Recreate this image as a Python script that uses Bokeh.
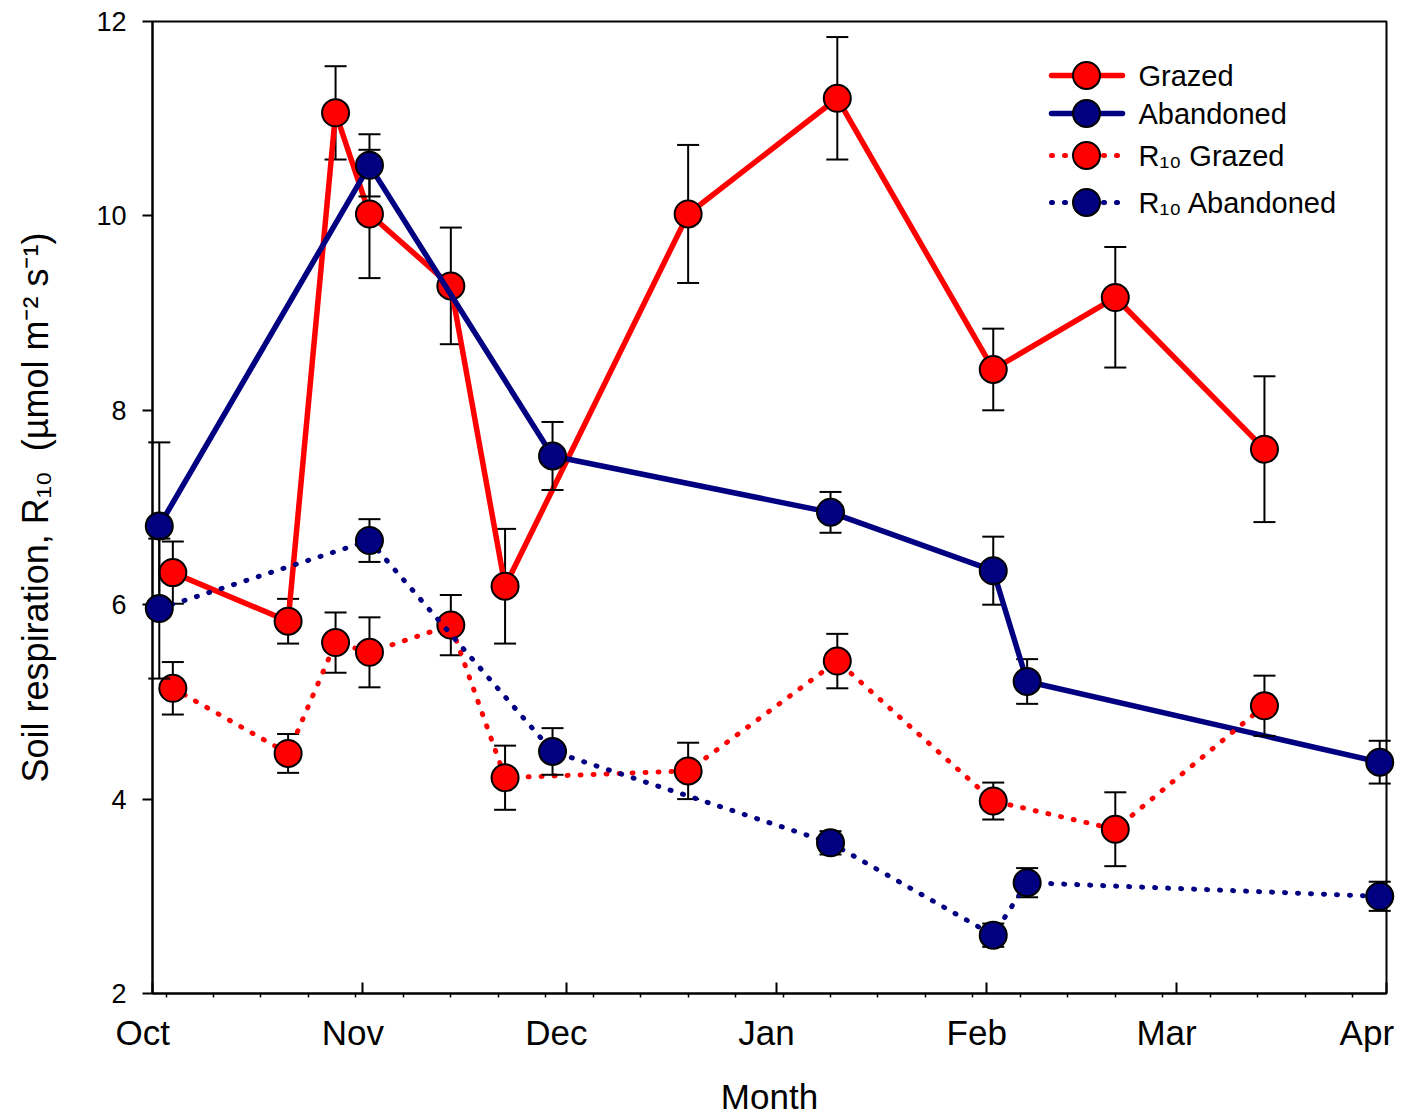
from datetime import date, datetime, timedelta

from bokeh.plotting import figure
from bokeh.models import ColumnDataSource, FixedTicker
from bokeh.core.properties import value
from bokeh.embed import file_html
from bokeh.resources import INLINE

# ---- data -----------------------------------------------------------------
# sampling dates of the two sites
grazed_dates = ["2010-10-04", "2010-10-21", "2010-10-28", "2010-11-02", "2010-11-14",
                "2010-11-22", "2010-12-19", "2011-01-10", "2011-02-02", "2011-02-20",
                "2011-03-14"]
abandoned_dates = ["2010-10-02", "2010-11-02", "2010-11-29", "2011-01-09", "2011-02-02",
                   "2011-02-07", "2011-03-31"]

# soil respiration (umol m-2 s-1) and standard errors
grazed = [6.33, 5.83, 11.06, 10.02, 9.28, 6.19, 10.02, 11.21, 8.42, 9.16, 7.60]
grazed_err_up = [0.32, 0.23, 0.48, 0.66, 0.60, 0.59, 0.71, 0.63, 0.42, 0.52, 0.75]
grazed_err_dn = [0.32, 0.23, 0.48, 0.66, 0.60, 0.59, 0.71, 0.63, 0.42, 0.72, 0.75]

abandoned = [6.81, 10.52, 7.53, 6.95, 6.35, 5.21, 4.38]
abandoned_err = [0.86, 0.32, 0.35, 0.21, 0.35, 0.23, 0.22]

# respiration normalised to 10 degC (R10)
r10_grazed = [5.14, 4.47, 5.61, 5.51, 5.79, 4.22, 4.29, 5.42, 3.98, 3.69, 4.96]
r10_grazed_err = [0.27, 0.20, 0.31, 0.36, 0.31, 0.33, 0.29, 0.28, 0.19, 0.38, 0.31]

r10_abandoned = [5.96, 6.66, 4.49, 3.55, 2.60, 3.14, 3.00]
r10_abandoned_err = [0.72, 0.22, 0.24, 0.12, 0.12, 0.15, 0.15]

# axis
month_starts = ["2010-10-01", "2010-11-01", "2010-12-01", "2011-01-01",
                "2011-02-01", "2011-03-01", "2011-04-01"]
month_labels = ["Oct", "Nov", "Dec", "Jan", "Feb", "Mar", "Apr"]
y_ticks = [2, 4, 6, 8, 10, 12]
series_labels = ["Grazed", "Abandoned", "R\u2081\u2080 Grazed", "R\u2081\u2080 Abandoned"]

RED = "#FF0000"
NAVY = "#000080"
FONT = "Liberation Sans"
DOTS = "1 12"
EPOCH = datetime(1970, 1, 1)

# canvas geometry (pixels) of the plotting frame
W, H = 1413, 1120
FRAME_L, FRAME_R, FRAME_T, FRAME_B = 152, 1386, 21, 993


def to_ms(d):
    if isinstance(d, str):
        d = datetime.strptime(d, "%Y-%m-%d")
    elif not isinstance(d, datetime):
        d = datetime(d.year, d.month, d.day)
    return int((d - EPOCH).total_seconds() * 1000)


month_ms = [to_ms(m) for m in month_starts]
week_ms = []
wk = date(2010, 10, 3)
while wk < date(2011, 4, 1):
    week_ms.append(to_ms(wk))
    wk += timedelta(days=7)

T0, T1 = month_ms[0], month_ms[-1]
Y0, Y1 = y_ticks[0], y_ticks[-1]

p = figure(width=W, height=H, x_axis_type="datetime",
           x_range=(T0, T1), y_range=(Y0, Y1),
           output_backend="svg", toolbar_location=None,
           min_border_left=FRAME_L, min_border_right=W - FRAME_R,
           min_border_top=FRAME_T, min_border_bottom=H - FRAME_B)

p.background_fill_color = "white"
p.border_fill_color = "white"
p.outline_line_color = "black"
p.outline_line_width = 2
p.xgrid.visible = False
p.ygrid.visible = False


def draw_series(dates, vals, err_dn, err_up, color, dash, width):
    x = [to_ms(d) for d in dates]
    lo = [v - e for v, e in zip(vals, err_dn)]
    hi = [v + e for v, e in zip(vals, err_up)]
    src = ColumnDataSource(dict(x=x, y=vals, lo=lo, hi=hi))
    # error bars with caps
    p.segment(x0="x", y0="lo", x1="x", y1="hi", source=src,
              line_color="black", line_width=2, level="annotation")
    for col in ("lo", "hi"):
        p.scatter("x", col, source=src, marker="dash", size=22,
                  line_color="black", line_width=2, level="annotation")
    p.line("x", "y", source=src, line_color=color, line_width=width,
           line_dash=dash, line_cap="round", line_join="round",
           level="annotation")
    p.scatter("x", "y", source=src, marker="circle", size=27,
              fill_color=color, line_color="black", line_width=2,
              level="annotation")


draw_series(grazed_dates, grazed, grazed_err_dn, grazed_err_up, RED, "solid", 5.5)
draw_series(abandoned_dates, abandoned, abandoned_err, abandoned_err, NAVY, "solid", 5.5)
draw_series(grazed_dates, r10_grazed, r10_grazed_err, r10_grazed_err, RED, DOTS, 5)
draw_series(abandoned_dates, r10_abandoned, r10_abandoned_err, r10_abandoned_err,
            NAVY, DOTS, 5)

# ---- axes -----------------------------------------------------------------
xax = p.xaxis[0]
xax.ticker = FixedTicker(ticks=month_ms, minor_ticks=week_ms)
# labels sit slightly left of their month tick
xax.major_label_overrides = {ms: lab + "\u00a0\u00a0" for ms, lab in zip(month_ms, month_labels)}
xax.axis_line_width = 2
xax.major_tick_in = 11
xax.major_tick_out = 0
xax.major_tick_line_width = 2
xax.minor_tick_in = 0
xax.minor_tick_out = 4
xax.minor_tick_line_width = 1.5
xax.major_label_text_font = FONT
xax.major_label_text_font_size = "35px"
xax.major_label_text_color = "black"
xax.major_label_standoff = 15
xax.axis_label = "Month"
xax.axis_label_text_font = FONT
xax.axis_label_text_font_size = "35px"
xax.axis_label_text_font_style = "normal"
xax.axis_label_text_color = "black"
xax.axis_label_standoff = 22

yax = p.yaxis[0]
yax.ticker = FixedTicker(ticks=y_ticks, minor_ticks=[])
yax.axis_line_width = 2
yax.major_tick_in = 0
yax.major_tick_out = 10
yax.major_tick_line_width = 2
yax.minor_tick_in = 0
yax.minor_tick_out = 0
yax.major_label_text_font = FONT
yax.major_label_text_font_size = "27px"
yax.major_label_text_color = "black"
yax.major_label_standoff = 16
yax.axis_label = "Soil respiration, R\u2081\u2080\u00a0 (\u00b5mol m\u207b\u00b2 s\u207b\u00b9)"
yax.axis_label_text_font = FONT
yax.axis_label_text_font_size = "36px"
yax.axis_label_text_font_style = "normal"
yax.axis_label_text_color = "black"
yax.axis_label_standoff = 37


# ---- legend (upper right) -------------------------------------------------
def px_x(px):
    return T0 + (px - FRAME_L) / (FRAME_R - FRAME_L) * (T1 - T0)


def px_y(py):
    return Y0 + (FRAME_B - py) / (FRAME_B - FRAME_T) * (Y1 - Y0)


legend_rows_px = [75, 113, 155, 202]
legend_styles = [(RED, "solid", 5.5), (NAVY, "solid", 5.5), (RED, DOTS, 5), (NAVY, DOTS, 5)]
for label, row, (color, dash, width) in zip(series_labels, legend_rows_px, legend_styles):
    yy = px_y(row)
    p.segment(x0=[px_x(1051)], y0=[yy], x1=[px_x(1122)], y1=[yy],
              line_color=color, line_width=width, line_dash=dash,
              line_cap="round", level="annotation")
    p.scatter([px_x(1086)], [yy], marker="circle", size=27, fill_color=color,
              line_color="black", line_width=2, level="annotation")
    p.text([px_x(1138)], [yy], text=[label], text_font=value(FONT),
           text_font_size="29px", text_color="black",
           text_align="left", text_baseline="middle", level="annotation")

open("out.html", "w").write(file_html(p, INLINE))
